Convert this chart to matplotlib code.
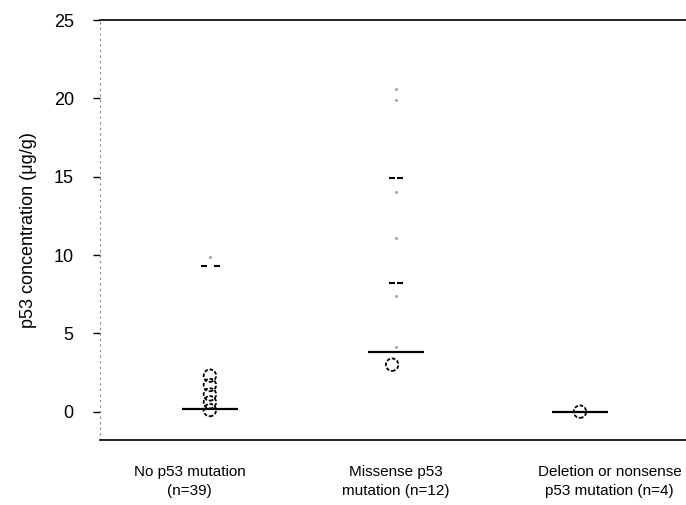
import matplotlib.pyplot as plt
import numpy as np

plt.rcParams['font.family'] = ['Liberation Sans', 'DejaVu Sans']

groups = ["No p53 mutation\n(n=39)", "Missense p53\nmutation (n=12)", "Deletion or nonsense\np53 mutation (n=4)"]
medians = [0.2, 3.8, 0.0]

# open circles (clustered low values)
circ_group = [0, 0, 0, 0, 0, 1, 2]
circ_vals = [2.3, 1.7, 1.1, 0.6, 0.1, 3.0, 0.0]

# solid dash marks
dash_group = [0, 0, 1, 1, 1, 1]
dash_vals = [9.3, 9.3, 14.9, 14.9, 8.2, 8.2]
dash_offset = [-0.03, 0.04, -0.02, 0.02, -0.02, 0.02]

# faint dots (scan residue of single values)
faint_group = [0, 1, 1, 1, 1, 1, 1]
faint_vals = [9.9, 20.6, 19.9, 14.0, 11.1, 7.4, 4.1]

fig = plt.figure(figsize=(6.86, 5.05), dpi=100)
ax = fig.add_axes([0.146, 0.129, 0.854, 0.831])

gx = np.array([0.0, 1.0, 1.99])

ax.hlines(medians, gx - 0.15, gx + 0.15, color="black", lw=1.6, zorder=3)

cx = gx[circ_group]
cx[5] = 0.98
ax.scatter(cx, circ_vals, s=80, facecolors="none", edgecolors="black",
           linewidths=1.3, linestyle=(0, (2, 1)), zorder=4)

dx = gx[dash_group] + np.array(dash_offset)
ax.scatter(dx, dash_vals, marker="_", s=18, color="black", linewidths=1.5, zorder=4)

fx = gx[faint_group]
ax.scatter(fx, faint_vals, marker=".", s=4, color="#999999", zorder=2)

ax.set_xlim(-0.59, 2.56)
ax.set_ylim(-1.8, 25)

ax.set_yticks([0, 5, 10, 15, 20, 25])
ax.tick_params(axis="y", length=5, width=1, labelsize=13, pad=14)
ax.set_xticks([-0.11, 1.0, 2.15])
ax.set_xticklabels(groups, fontsize=11, linespacing=1.5)
ax.tick_params(axis="x", length=0, pad=18)

ax.spines["right"].set_visible(False)
ax.spines["left"].set_linestyle((0, (1, 4)))
ax.spines["left"].set_color("#888888")
ax.spines["left"].set_linewidth(0.8)
ax.spines["top"].set_linewidth(1.2)
ax.spines["bottom"].set_linewidth(1.2)

ax.set_ylabel("p53 concentration (μg/g)", fontsize=13, labelpad=12)

fig.savefig("out.png", dpi=100)
